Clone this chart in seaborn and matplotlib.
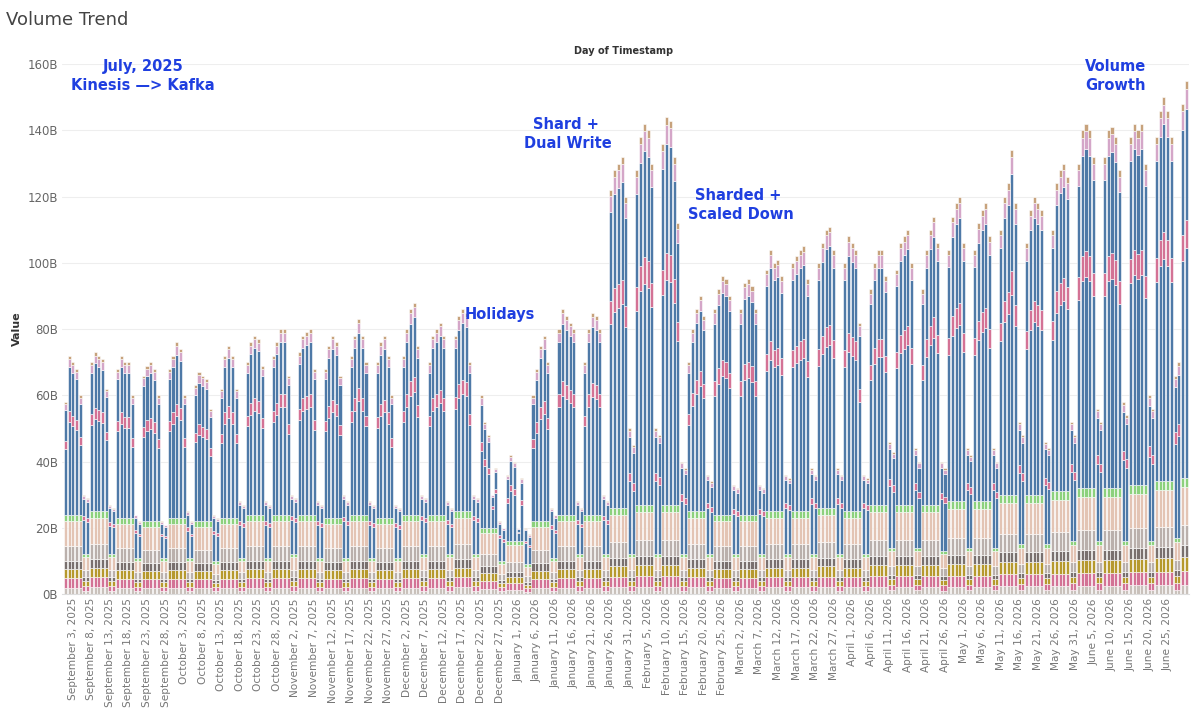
import numpy as np
import pandas as pd
import matplotlib.pyplot as plt
import seaborn as sns

# Daily totals (billions), one row per week starting Monday Sept 1, 2025
week_totals = [
    [58, 72, 70, 68, 60, 30, 29],
    [70, 73, 72, 71, 62, 27, 26],
    [68, 72, 70, 70, 60, 24, 22],
    [66, 69, 70, 68, 60, 22, 21],
    [68, 72, 76, 74, 60, 25, 22],
    [63, 67, 66, 65, 56, 24, 23],
    [62, 72, 75, 72, 62, 28, 27],
    [70, 76, 78, 77, 69, 28, 27],
    [72, 76, 80, 80, 66, 30, 29],
    [73, 78, 79, 80, 68, 28, 27],
    [68, 75, 78, 76, 66, 30, 28],
    [72, 78, 83, 78, 70, 28, 27],
    [70, 76, 78, 72, 60, 27, 26],
    [72, 80, 86, 88, 75, 30, 29],
    [70, 78, 80, 82, 78, 28, 26],
    [78, 84, 86, 85, 70, 30, 29],
    [60, 52, 48, 30, 38, 22, 20],
    [36, 42, 40, 20, 35, 20, 18],
    [60, 68, 75, 78, 70, 26, 24],
    [80, 86, 84, 82, 80, 28, 26],
    [70, 80, 85, 84, 80, 30, 28],
    [122, 128, 130, 132, 120, 50, 45],
    [128, 138, 142, 140, 130, 50, 48],
    [136, 144, 143, 132, 112, 40, 38],
    [70, 80, 86, 90, 84, 36, 34],
    [86, 92, 96, 95, 90, 33, 32],
    [86, 94, 95, 93, 86, 33, 32],
    [98, 104, 100, 101, 96, 36, 35],
    [100, 102, 104, 105, 95, 38, 36],
    [100, 106, 110, 111, 104, 38, 36],
    [100, 108, 106, 104, 82, 36, 35],
    [92, 100, 104, 104, 96, 46, 43],
    [98, 106, 108, 110, 100, 44, 40],
    [92, 104, 110, 114, 106, 40, 38],
    [104, 114, 118, 120, 106, 44, 42],
    [104, 112, 116, 118, 108, 44, 40],
    [110, 120, 124, 134, 118, 52, 48],
    [106, 116, 120, 118, 116, 46, 44],
    [110, 124, 128, 130, 126, 52, 48],
    [130, 140, 142, 140, 132, 56, 52],
    [132, 140, 141, 138, 128, 58, 54],
    [138, 142, 140, 142, 130, 60, 56],
    [138, 146, 150, 146, 138, 66, 70],
    [148, 155],
]

# Lower stacked block per week: (weekday, weekend)
week_base = [
    (24, 12), (25, 12), (23, 11), (22, 11), (23, 11), (22, 10), (23, 11),
    (24, 11), (24, 12), (24, 11), (23, 11), (24, 11), (23, 11), (24, 12),
    (24, 12), (25, 12), (20, 10), (16, 9), (22, 11), (24, 12), (24, 12),
    (26, 12), (27, 12), (27, 12), (25, 12), (24, 12), (24, 12), (25, 12),
    (25, 12), (26, 12), (25, 12), (27, 14), (27, 14), (27, 13), (28, 14),
    (28, 14), (30, 15), (30, 15), (31, 16), (32, 16), (32, 16), (33, 16),
    (34, 17), (35, 17),
]

base_layers = ['Service A', 'Service B', 'Service C', 'Service D', 'Service E', 'Service F', 'Service G']
base_shares = [0.08, 0.12, 0.12, 0.10, 0.18, 0.32, 0.08]
base_colors = ['#c9c1bb', '#d37295', '#b6992d', '#79706e', '#bab0ac', '#e3c4b4', '#8cd17d']

upper_layers = ['Service H', 'Service I', 'Service J', 'Service K', 'Service L']
upper_shares = [0.58, 0.07, 0.28, 0.05, 0.02]
upper_colors = ['#4e79a7', '#d37295', '#4e79a7', '#d4a6c8', '#c7a27c']

annotations = [
    ('July, 2025\nKinesis —> Kafka', 21, 156.5),
    ('Holidays', 117, 84.5),
    ('Shard + \nDual Write', 135.5, 139),
    ('Sharded + \nScaled Down', 182, 117.5),
    ('Volume\nGrowth', 283, 156.5),
]

dates = pd.date_range('2025-09-01', '2026-06-30', freq='D')

# Build long table: one row per day and layer
rows = []
i = 0
for w, days in enumerate(week_totals):
    for d, total in enumerate(days):
        base = week_base[w][1] if d >= 5 else week_base[w][0]
        for name, share in zip(base_layers, base_shares):
            rows.append((i, name, base * share))
        for name, share in zip(upper_layers, upper_shares):
            rows.append((i, name, (total - base) * share))
        i += 1
df = pd.DataFrame(rows, columns=['day', 'layer', 'value'])

order = base_layers + upper_layers
palette = dict(zip(order, base_colors + upper_colors))

sns.set_style('white')
fig = plt.figure(figsize=(12, 7.14), dpi=100)
ax = fig.add_axes([0.052, 0.168, 0.939, 0.742])
sns.histplot(data=df, x='day', weights='value', hue='layer', hue_order=order[::-1],
             multiple='stack', discrete=True, shrink=0.82, palette=palette,
             edgecolor='white', linewidth=0.4, alpha=1, legend=False, ax=ax)

ax.set_xlim(-0.8, len(dates) - 0.2)
ax.set_ylim(0, 160)
ax.set_yticks(range(0, 161, 20))
ax.set_yticklabels([f'{v}B' for v in range(0, 161, 20)], color='#666666', fontsize=8.5)
ax.yaxis.grid(True, color='#eeeeee', linewidth=0.8)
ax.set_axisbelow(True)
ticks = list(range(2, len(dates) - 5, 5))
ax.set_xticks(ticks)
ax.set_xticklabels([f'{dates[t]:%B} {dates[t].day}, {dates[t].year}' for t in ticks],
                   rotation=90, fontsize=7.6, color='#777777')
ax.tick_params(axis='both', length=0, pad=3)
ax.set_xlabel('')
ax.set_ylabel('Value', fontsize=8, fontweight='bold', color='#333333')
for s in ['top', 'right', 'left']:
    ax.spines[s].set_visible(False)
ax.spines['bottom'].set_color('#dddddd')

for text, x, y in annotations:
    ax.text(x, y, text, ha='center', va='center', color='#1f3fe0',
            fontsize=10.5, fontweight='bold', linespacing=1.3)

fig.text(0.005, 0.972, 'Volume Trend', fontsize=13, color='#444444', va='center')
fig.text(0.52, 0.928, 'Day of Timestamp', fontsize=7, fontweight='bold',
         color='#333333', ha='center', va='center')

fig.savefig('out.png', dpi=100)
